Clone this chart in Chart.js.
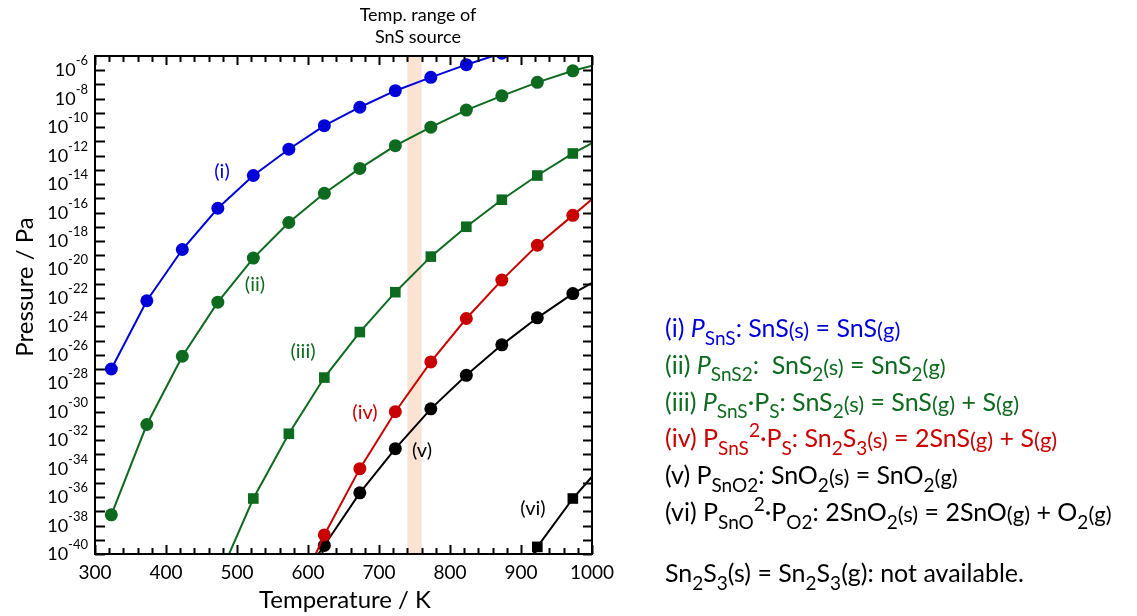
<!DOCTYPE html>
<html>
<head>
<meta charset="utf-8">
<script src="https://cdn.jsdelivr.net/npm/chart.js@4.4.1/dist/chart.umd.min.js"></script>
<style>
  html, body { margin: 0; padding: 0; background: #fff; }
  canvas { display: block; }
</style>
</head>
<body>
<canvas id="vp" width="1137" height="616"></canvas>
<script>
/* temperatures (K) and log10 of pressure (Pa) */
const temps = [323, 373, 423, 473, 523, 573, 623, 673, 723, 773, 823, 873, 923, 973, 1023];
const logSnS = [-27.0, -22.2, -18.6, -15.7, -13.4, -11.55, -9.9, -8.6, -7.44, -6.5, -5.61, -4.8, null, null, null];
const logSnS2 = [-37.25, -30.9, -26.1, -22.3, -19.2, -16.7, -14.65, -12.9, -11.3, -10.0, -8.8, -7.8, -6.85, -6.04, -5.38];
const logSnSxS = [null, null, null, -41.8, -36.1, -31.55, -27.6, -24.4, -21.6, -19.1, -17.0, -15.1, -13.4, -11.85, -10.5];
const logSn2S3 = [null, null, null, null, null, -44.2, -38.66, -34.0, -30.0, -26.5, -23.45, -20.75, -18.3, -16.2, -14.1];
const logSnO2 = [null, null, null, null, null, -43.0, -39.4, -35.7, -32.6, -29.8, -27.44, -25.3, -23.4, -21.7, -20.3];
const logSnO = [null, null, null, null, null, null, null, null, null, null, null, -44.0, -39.5, -36.1, -33.25];

const xTicks = [300, 400, 500, 600, 700, 800, 900, 1000];
const yTickExp = [-6, -8, -10, -12, -14, -16, -18, -20, -22, -24, -26, -28, -30, -32, -34, -36, -38, -40];
const band = [740, 760];

const FONT = 'Lato, "Open Sans", sans-serif';
const BLUE = '#0000d8', GREEN = '#0d6a1f', RED = '#c80000', BLACK = '#000000';

const legendLines = [
  [BLUE, [['(i) ', 'n'], ['P', 'i'], ['SnS', 'b'], [': SnS', 'n'], ['(s)', 'm'], [' = SnS', 'n'], ['(g)', 'm']]],
  [GREEN, [['(ii) ', 'n'], ['P', 'i'], ['SnS2', 'b'], [':  SnS', 'n'], ['2', 'b'], ['(s)', 'm'], [' = SnS', 'n'], ['2', 'b'], ['(g)', 'm']]],
  [GREEN, [['(iii) ', 'n'], ['P', 'i'], ['SnS', 'b'], ['·P', 'n'], ['S', 'b'], [': SnS', 'n'], ['2', 'b'], ['(s)', 'm'], [' = SnS', 'n'], ['(g)', 'm'], [' + S', 'n'], ['(g)', 'm']]],
  [RED, [['(iv) P', 'n'], ['SnS', 'b'], ['2', 'p'], ['·P', 'n'], ['S', 'b'], [': Sn', 'n'], ['2', 'b'], ['S', 'n'], ['3', 'b'], ['(s)', 'm'], [' = 2SnS', 'n'], ['(g)', 'm'], [' + S', 'n'], ['(g)', 'm']]],
  [BLACK, [['(v) P', 'n'], ['SnO2', 'b'], [': SnO', 'n'], ['2', 'b'], ['(s)', 'm'], [' = SnO', 'n'], ['2', 'b'], ['(g)', 'm']]],
  [BLACK, [['(vi) P', 'n'], ['SnO', 'b'], ['2', 'p'], ['·P', 'n'], ['O2', 'b'], [': 2SnO', 'n'], ['2', 'b'], ['(s)', 'm'], [' = 2SnO', 'n'], ['(g)', 'm'], [' + O', 'n'], ['2', 'b'], ['(g)', 'm']]],
];
const noteLine = [['Sn', 'n'], ['2', 'b'], ['S', 'n'], ['3', 'b'], ['(s) = Sn', 'n'], ['2', 'b'], ['S', 'n'], ['3', 'b'], ['(g): not available.', 'n']];

const curveLabels = [
  ['(i)', BLUE, 222, 172], ['(ii)', GREEN, 255, 285], ['(iii)', GREEN, 303, 352],
  ['(iv)', RED, 365, 413], ['(v)', BLACK, 422, 451], ['(vi)', BLACK, 533, 509],
];

function series(logs) {
  return temps.map((t, i) => ({ x: t, y: logs[i] == null ? null : Math.pow(10, logs[i]) }));
}

function ds(logs, color, style, r) {
  return {
    data: series(logs),
    borderColor: color, backgroundColor: color,
    borderWidth: 2, pointStyle: style, pointRadius: r,
    pointBorderWidth: 0, tension: 0, spanGaps: false,
  };
}

function drawRich(ctx, segs, x, y, size) {
  segs.forEach(([t, k]) => {
    let s = size, dy = 0, st = '';
    if (k === 'i') st = 'italic ';
    if (k === 'b') { s = size * 0.76; dy = size * 0.3; }
    if (k === 'p') { s = size * 0.76; dy = -size * 0.4; }
    if (k === 'm') { s = size * 0.88; dy = size * 0.04; }
    ctx.font = st + s + 'px ' + FONT;
    ctx.fillText(t, x, y + dy);
    x += ctx.measureText(t).width;
  });
}

const decor = {
  id: 'decor',
  beforeDatasetsDraw(chart) {
    const { ctx, chartArea: a, scales: { x } } = chart;
    ctx.save();
    ctx.fillStyle = '#fbe3d3';
    const x0 = x.getPixelForValue(band[0]), x1 = x.getPixelForValue(band[1]);
    ctx.fillRect(x0, a.top, x1 - x0, a.bottom - a.top);
    ctx.restore();
  },
  afterDatasetsDraw(chart) {
    const { ctx, chartArea: a, scales: { x, y } } = chart;
    ctx.save();
    ctx.strokeStyle = '#000';
    ctx.lineWidth = 2;
    ctx.strokeRect(a.left, a.top, a.right - a.left, a.bottom - a.top);

    // inward ticks
    ctx.beginPath();
    for (let t = 300; t <= 1000; t += 20) {
      const px = Math.round(x.getPixelForValue(t)) + 0.5;
      const len = t % 100 === 0 ? 9 : 6;
      ctx.moveTo(px, a.bottom); ctx.lineTo(px, a.bottom - len);
      ctx.moveTo(px, a.top); ctx.lineTo(px, a.top + len);
    }
    for (let e = -40; e <= -6; e++) {
      const py = Math.round(y.getPixelForValue(Math.pow(10, e))) + 0.5;
      ctx.moveTo(a.left, py); ctx.lineTo(a.left + 10, py);
      ctx.moveTo(a.right, py); ctx.lineTo(a.right - 9, py);
    }
    ctx.stroke();

    // tick labels
    ctx.fillStyle = '#000';
    ctx.textAlign = 'center';
    ctx.textBaseline = 'alphabetic';
    ctx.font = '19px ' + FONT;
    xTicks.forEach(t => ctx.fillText(String(t), x.getPixelForValue(t), a.bottom + 25));
    yTickExp.forEach(e => {
      const py = y.getPixelForValue(Math.pow(10, e));
      ctx.textAlign = 'right';
      ctx.font = '13px ' + FONT;
      const sup = '-' + Math.abs(e);
      ctx.fillText(sup, 88, py - 5);
      const w = ctx.measureText(sup).width;
      ctx.font = '18px ' + FONT;
      ctx.fillText('10', 88 - w, py + 6);
    });

    // axis titles
    ctx.textAlign = 'center';
    ctx.textBaseline = 'middle';
    ctx.font = '24px ' + FONT;
    ctx.fillText('Temperature / K', 345, 600);
    ctx.save();
    ctx.translate(25, 287);
    ctx.rotate(-Math.PI / 2);
    ctx.fillText('Pressure / Pa', 0, 0);
    ctx.restore();

    // band caption
    ctx.font = '18px ' + FONT;
    ctx.fillText('Temp. range of', 418, 15);
    ctx.fillText('SnS source', 418, 37);

    // curve labels
    ctx.font = '20px ' + FONT;
    curveLabels.forEach(([t, c, lx, ly]) => { ctx.fillStyle = c; ctx.fillText(t, lx, ly); });

    // legend block
    ctx.textAlign = 'left';
    ctx.textBaseline = 'alphabetic';
    legendLines.forEach(([c, segs], i) => {
      ctx.fillStyle = c;
      drawRich(ctx, segs, 665, 337 + i * 36.8, 25);
    });
    ctx.fillStyle = '#000';
    drawRich(ctx, noteLine, 665, 582, 25);
    ctx.restore();
  },
};

new Chart(document.getElementById('vp'), {
  type: 'line',
  data: {
    datasets: [
      ds(logSnS, BLUE, 'circle', 6.5),
      ds(logSnS2, GREEN, 'circle', 6.5),
      ds(logSnSxS, GREEN, 'rect', 7.5),
      ds(logSn2S3, RED, 'circle', 6.5),
      ds(logSnO2, BLACK, 'circle', 6.5),
      ds(logSnO, BLACK, 'rect', 7.5),
    ],
  },
  options: {
    responsive: false,
    animation: false,
    devicePixelRatio: 1,
    layout: { padding: { left: 95, right: 545, top: 56, bottom: 62 } },
    plugins: { legend: { display: false }, tooltip: { enabled: false } },
    scales: {
      x: { type: 'linear', display: false, min: 300, max: 1000 },
      y: { type: 'logarithmic', display: false, min: 1e-40, max: 1e-5 },
    },
  },
  plugins: [decor],
});
</script>
</body>
</html>
